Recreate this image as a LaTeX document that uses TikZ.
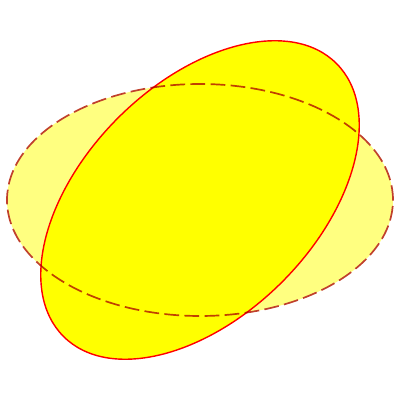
\documentclass[tikz,border=0pt]{standalone}
\definecolor{dashbrown}{RGB}{192,64,44}
\definecolor{pureyellow}{RGB}{255,255,0}
\definecolor{paleyellow}{RGB}{255,255,128}
\definecolor{purered}{RGB}{255,0,0}
\tikzset{
  flatell/.style={draw=dashbrown, line width=1.2pt, dash pattern=on 10.5pt off 3.8pt, fill=paleyellow},
  tiltell/.style={draw=purered, line width=1pt, fill=pureyellow}
}
\begin{document}
\begin{tikzpicture}[x=0.025cm,y=0.025cm]
\useasboundingbox (0,0) rectangle (400,400);
\path[flatell] (200,200) ellipse (193 and 116);
\begin{scope}[blend mode=multiply]
\path[tiltell, rotate around={45:(200,200)}] (200,200) ellipse (193 and 116);
\end{scope}
\end{tikzpicture}
\end{document}
